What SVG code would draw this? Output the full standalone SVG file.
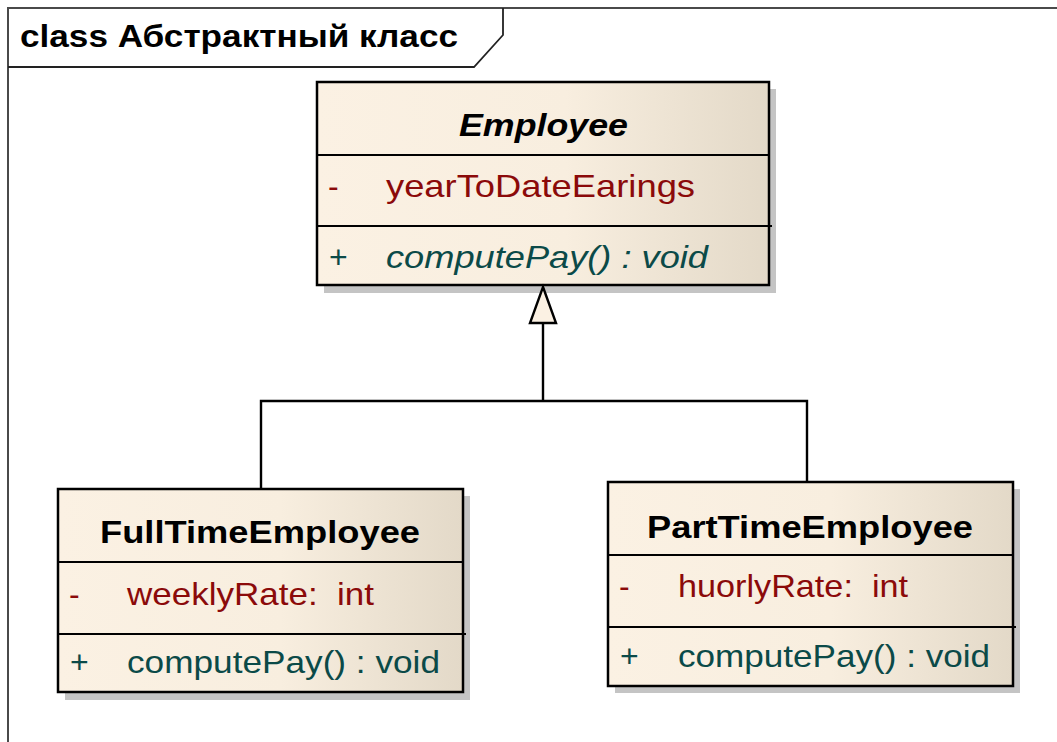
<svg xmlns="http://www.w3.org/2000/svg" width="1057" height="742" viewBox="0 0 1057 742">
<defs>
<linearGradient id="fill" x1="0" y1="0" x2="1" y2="0">
<stop offset="0" stop-color="#FBF1E3"/>
<stop offset="0.55" stop-color="#F8EEDF"/>
<stop offset="1" stop-color="#E3D9C8"/>
</linearGradient>
</defs>
<style>
text{font-family:"Liberation Sans",Arial,sans-serif;white-space:pre;}
.box{fill:url(#fill);stroke:#000;stroke-width:2.5;}
.shadow{fill:#C4C4C4;}
.div{stroke:#000;stroke-width:2;}
.title{font-size:32px;font-weight:bold;fill:#000;}
.attr{font-size:32px;fill:#8B0A0A;}
.op{font-size:32px;fill:#0B4A48;}
.conn{stroke:#000;stroke-width:2.4;fill:none;}
.frame{stroke:#4a4a4a;stroke-width:2;fill:none;}
</style>
<rect width="1057" height="742" fill="#fff"/>
<g id="frame">
<path class="frame" d="M8,742 L8,8 L1057,8"/>
<path d="M8,67 L474,67 L503,35 L503,8" fill="none" stroke="#222" stroke-width="1.8"/>
<text class="title" x="20" y="47" textLength="438" lengthAdjust="spacingAndGlyphs">class Абстрактный класс</text>
</g>
<g id="Employee">
<rect class="shadow" x="324" y="89" width="452" height="204"/>
<rect class="box" x="317" y="82" width="452" height="203"/>
<line class="div" x1="317" y1="155" x2="769" y2="155"/>
<line class="div" x1="317" y1="226" x2="772" y2="226"/>
<text class="title" x="459" y="136" font-style="italic" textLength="169" lengthAdjust="spacingAndGlyphs">Employee</text>
<text class="attr" x="328" y="197">-</text>
<text class="attr" x="386" y="197" textLength="309" lengthAdjust="spacingAndGlyphs">yearToDateEarings</text>
<text class="op" x="329" y="268">+</text>
<text class="op" x="386" y="268" font-style="italic" textLength="322" lengthAdjust="spacingAndGlyphs">computePay() : void</text>
</g>
<g id="FullTimeEmployee">
<rect class="shadow" x="65" y="496" width="405" height="204"/>
<rect class="box" x="58" y="489" width="405" height="203"/>
<line class="div" x1="58" y1="562" x2="463" y2="562"/>
<line class="div" x1="58" y1="634" x2="466" y2="634"/>
<text class="title" x="100" y="543" textLength="320" lengthAdjust="spacingAndGlyphs">FullTimeEmployee</text>
<text class="attr" x="69" y="605">-</text>
<text class="attr" x="127" y="605" textLength="247" lengthAdjust="spacingAndGlyphs">weeklyRate:  int</text>
<text class="op" x="70" y="673">+</text>
<text class="op" x="127" y="673" textLength="313" lengthAdjust="spacingAndGlyphs">computePay() : void</text>
</g>
<g id="PartTimeEmployee">
<rect class="shadow" x="615" y="489" width="405" height="204"/>
<rect class="box" x="608" y="482" width="405" height="204"/>
<line class="div" x1="608" y1="555" x2="1013" y2="555"/>
<line class="div" x1="608" y1="627" x2="1016" y2="627"/>
<text class="title" x="647" y="538" textLength="326" lengthAdjust="spacingAndGlyphs">PartTimeEmployee</text>
<text class="attr" x="619" y="597">-</text>
<text class="attr" x="678" y="597" textLength="230" lengthAdjust="spacingAndGlyphs">huorlyRate:  int</text>
<text class="op" x="620" y="667">+</text>
<text class="op" x="678" y="667" textLength="312" lengthAdjust="spacingAndGlyphs">computePay() : void</text>
</g>
<g id="connectors">
<path class="conn" d="M261,489 L261,401 L807,401 L807,482"/>
<path class="conn" d="M543,401 L543,323"/>
<path d="M543,287 L556,323 L530,323 Z" fill="#FBF1E3" stroke="#000" stroke-width="2.4"/>
</g>
</svg>
